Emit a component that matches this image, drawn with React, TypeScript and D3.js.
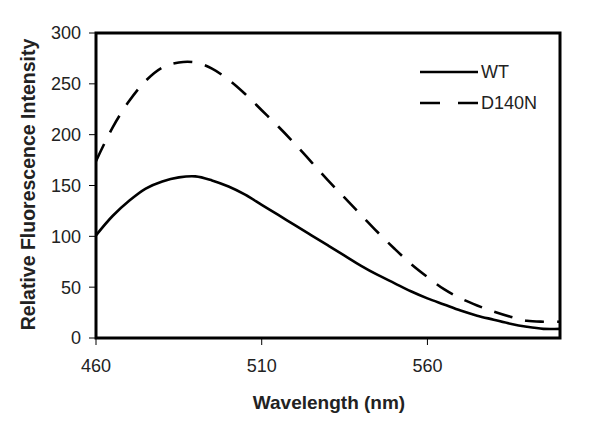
import React from "react";
import * as d3 from "d3";

const wavelengths = [460, 465, 470, 475, 480, 485, 490, 495, 500, 505, 510, 515, 520, 525, 530, 535, 540, 545, 550, 555, 560, 565, 570, 575, 580, 585, 590, 595, 600];
const wtValues = [101, 120, 135, 147, 154, 158, 159, 155, 149, 141, 131, 121, 111, 101, 91, 81, 71, 62, 54, 46, 39, 33, 27, 22, 18, 14, 11, 9, 9];
const d140nValues = [174, 207, 233, 253, 266, 271, 271, 265, 254, 240, 224, 208, 191, 173, 155, 138, 121, 104, 88, 73, 60, 48, 39, 32, 26, 21, 17, 16, 16];
const xTicks = [460, 510, 560];
const yTicks = [0, 50, 100, 150, 200, 250, 300];
const seriesNames = ["WT", "D140N"];

export default function App() {
  const W = 600, H = 425;
  const left = 96, right = 560, top = 33, bottom = 338;
  const x = d3.scaleLinear().domain([460, 600]).range([left, right]);
  const y = d3.scaleLinear().domain([0, 300]).range([bottom, top]);
  const line = d3.line<number>()
    .x((_, i) => x(wavelengths[i]))
    .y((d) => y(d))
    .curve(d3.curveCatmullRom.alpha(0.5));
  const font = "'Liberation Sans', Arial, sans-serif";
  const txt = "#222";
  return (
    <svg width={W} height={H} style={{ position: "absolute", left: 0, top: 0, background: "#fff" }}>
      <rect x={0} y={0} width={W} height={H} fill="#fff" />
      <path d={line(d140nValues) || ""} fill="none" stroke="#000" strokeWidth={2.6} strokeDasharray="19 13" />
      <path d={line(wtValues) || ""} fill="none" stroke="#000" strokeWidth={2.6} />
      <rect x={left} y={top} width={right - left} height={bottom - top} fill="none" stroke="#000" strokeWidth={3} />
      {yTicks.map((t) => (
        <g key={"y" + t}>
          <line x1={left - 7} x2={left} y1={y(t)} y2={y(t)} stroke="#000" strokeWidth={1} />
          <text x={81} y={y(t)} dy="0.36em" textAnchor="end" fontFamily={font} fontSize={18} fill={txt}>{t}</text>
        </g>
      ))}
      {xTicks.map((t) => (
        <g key={"x" + t}>
          <line x1={x(t)} x2={x(t)} y1={bottom} y2={bottom + 7} stroke="#000" strokeWidth={1} />
          <text x={x(t)} y={372} textAnchor="middle" fontFamily={font} fontSize={18} fill={txt}>{t}</text>
        </g>
      ))}
      <text x={(left + right) / 2 + 1} y={409} textAnchor="middle" fontFamily={font} fontSize={19} fontWeight="bold" fill={txt}>Wavelength (nm)</text>
      <text transform={`translate(35,${(top + bottom) / 2 - 1}) rotate(-90)`} textAnchor="middle" fontFamily={font} fontSize={19.5} fontWeight="bold" fill={txt}>Relative Fluorescence Intensity</text>
      <line x1={420} x2={478} y1={72} y2={72} stroke="#000" strokeWidth={2.6} />
      <text x={481} y={72} dy="0.36em" fontFamily={font} fontSize={18} fill={txt}>{seriesNames[0]}</text>
      <line x1={420} x2={478} y1={103} y2={103} stroke="#000" strokeWidth={2.6} strokeDasharray="20 18" />
      <text x={481} y={103} dy="0.36em" fontFamily={font} fontSize={18} fill={txt}>{seriesNames[1]}</text>
    </svg>
  );
}
